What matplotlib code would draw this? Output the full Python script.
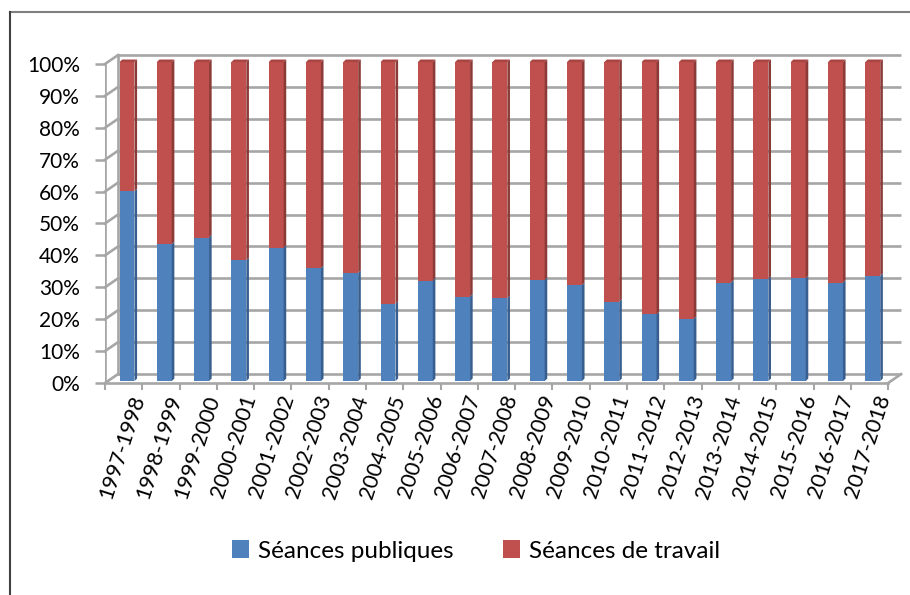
import matplotlib
matplotlib.use("Agg")
from matplotlib import pyplot as plt
from matplotlib.patches import Polygon, Rectangle
from matplotlib.lines import Line2D
import numpy as np

years = ["1997-1998", "1998-1999", "1999-2000", "2000-2001", "2001-2002",
         "2002-2003", "2003-2004", "2004-2005", "2005-2006", "2006-2007",
         "2007-2008", "2008-2009", "2009-2010", "2010-2011", "2011-2012",
         "2012-2013", "2013-2014", "2014-2015", "2015-2016", "2016-2017",
         "2017-2018"]
publiques = [59.5, 42.9, 45.0, 37.9, 41.8, 35.4, 33.9, 24.2, 31.5, 26.5,
             26.0, 31.7, 30.1, 24.9, 20.9, 19.5, 30.9, 32.0, 32.2, 30.9, 33.0]
travail = [100 - p for p in publiques]

plt.rcParams["font.family"] = ["Lato", "DejaVu Sans"]

blue, blue_side = "#4F81BD", "#375E8E"
red, red_side = "#C0504D", "#8C3A37"
grid_c = "#A6A6A6"

fig = plt.figure(figsize=(9.1, 5.95), dpi=100)
ax = fig.add_axes([105 / 910, 212 / 595, 798 / 910, 328.6 / 595])
n = len(years)
ax.set_xlim(-0.5, n - 0.5 + 0.4)
ax.set_ylim(0, 1.03)

# fake depth of the 3d wall
dx, dy = 0.35, 0.028
yt = np.arange(0, 1.01, 0.1)
for y in yt:
    ax.plot([-0.5 + dx, n - 0.5 + dx], [y + dy, y + dy], color=grid_c, lw=1.9, zorder=1,
            solid_capstyle="butt", clip_on=False)
    ax.plot([-0.5, -0.5 + dx], [y, y + dy], color=grid_c, lw=1.9, zorder=1, clip_on=False)
ax.plot([-0.5, -0.5], [0, 1], color=grid_c, lw=1.9, zorder=1)
ax.plot([-0.5 + dx, -0.5 + dx], [dy, 1 + dy], color=grid_c, lw=1.9, zorder=1)
ax.plot([-0.5, n - 0.5], [0, 0], color=grid_c, lw=1.9, zorder=1, clip_on=False)
ax.plot([n - 0.5, n - 0.5 + dx], [0, dy], color=grid_c, lw=1.9, zorder=1, clip_on=False)

# bars with side and top faces
w = 0.40
off_x, off_y = 0.09, 0.006
sx, sy = 0.07, 0.008
for i in range(n):
    x0 = i + off_x - w / 2
    segs = [(0, publiques[i] / 100, blue, blue_side),
            (publiques[i] / 100, 1.0, red, red_side)]
    for b, t, c, cs in segs:
        b += off_y
        t += off_y
        ax.add_patch(Rectangle((x0, b), w, t - b, facecolor=c, edgecolor="none", zorder=3))
        ax.add_patch(Polygon([(x0 + w, b), (x0 + w + sx, b + sy), (x0 + w + sx, t + sy), (x0 + w, t)],
                             closed=True, facecolor=cs, edgecolor="none", zorder=3))
    top = 1.0 + off_y
    ax.add_patch(Polygon([(x0, top), (x0 + sx, top + sy), (x0 + w + sx, top + sy), (x0 + w, top)],
                         closed=True, facecolor="#A84542", edgecolor="none", zorder=3))

for s in ax.spines.values():
    s.set_visible(False)

ax.set_yticks(yt)
ax.set_yticklabels([f"{int(round(v * 100))}%" for v in yt], fontsize=15)
ax.tick_params(axis="y", length=7, width=1.8, color=grid_c, pad=11)

ax.set_xticks(np.arange(-0.5, n, 1.0))
ax.set_xticklabels([])
ax.tick_params(axis="x", length=5, width=1.5, color=grid_c)
for i, lab in enumerate(years):
    ax.text(i + 0.15, -0.03, lab, rotation=72, ha="right", va="top",
            rotation_mode="anchor", fontsize=15.5, clip_on=False)

handles = [Rectangle((0, 0), 1, 1, facecolor=blue), Rectangle((0, 0), 1, 1, facecolor=red)]
fig.legend(handles, ["Séances publiques", "Séances de travail"], loc="center",
           bbox_to_anchor=(476 / 910, 1 - 551 / 595), ncol=2, frameon=False, fontsize=17.5,
           handlelength=0.7, handleheight=0.7, handletextpad=0.4, columnspacing=2.0)

# outer frame of the chart
fig.add_artist(Line2D([10 / 910, 1], [1 - 12 / 595, 1 - 12 / 595], color="#808080", lw=1.5))
fig.add_artist(Line2D([10 / 910, 10 / 910], [0, 1 - 12 / 595], color="#404040", lw=1.5))

fig.savefig("out.png", dpi=100)
